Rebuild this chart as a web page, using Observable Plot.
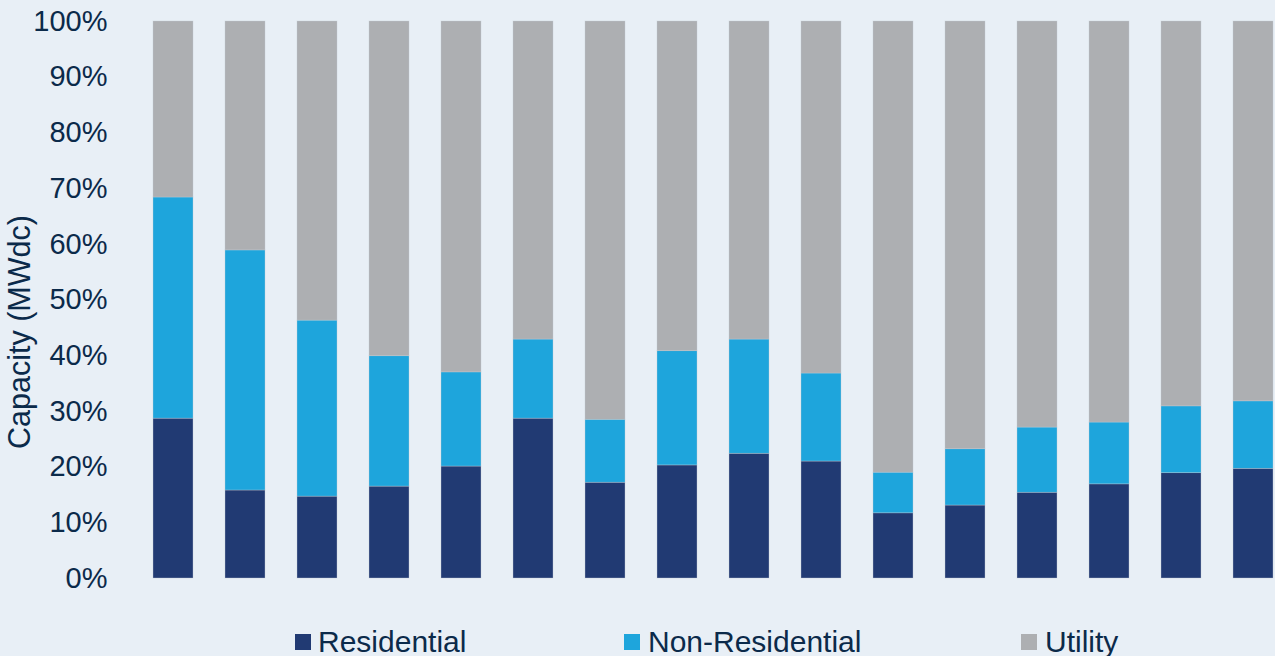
<!DOCTYPE html>
<html>
<head>
<meta charset="utf-8">
<script src="https://cdn.jsdelivr.net/npm/d3@7"></script>
<script src="https://cdn.jsdelivr.net/npm/@observablehq/plot@0.6"></script>
<style>
  html, body { margin: 0; padding: 0; background: #e8eff6; overflow: hidden; }
  #wrap { position: relative; width: 1275px; height: 656px; font-family: "Liberation Sans", Arial, sans-serif; }
  #legend { position: absolute; left: 0; top: 0; width: 1275px; height: 656px; pointer-events: none; }
  .item { position: absolute; top: 622px; font-size: 30px; color: #0b2a4a; line-height: 40px; white-space: nowrap; }
  .sw { position: absolute; top: 12px; width: 16px; height: 16px; }
  .lbl { position: absolute; top: 0; }
</style>
</head>
<body>
<div id="wrap"><div id="chart"></div><div id="legend"></div></div>
<script>
// Bar categories (unlabelled in the source chart)
const categories = ["1","2","3","4","5","6","7","8","9","10","11","12","13","14","15","16"];
// Shares of capacity (%)
const residential    = [28.7, 15.8, 14.7, 16.5, 20.1, 28.7, 17.2, 20.3, 22.4, 21.0, 11.7, 13.1, 15.4, 16.9, 18.9, 19.7];
const nonResidential = [39.7, 43.1, 31.6, 23.4, 16.9, 14.2, 11.3, 20.5, 20.5, 15.8,  7.3, 10.1, 11.7, 11.1, 12.0, 12.1];
const utility        = residential.map((r, i) => +(100 - r - nonResidential[i]).toFixed(1));
const segments = ["Residential", "Non-Residential", "Utility"];
const colors = ["#213a73", "#1ea5dc", "#adafb2"];
const yTicks = [0,10,20,30,40,50,60,70,80,90,100];

const data = [];
categories.forEach((c, i) => {
  data.push({cat: c, seg: segments[0], value: residential[i]});
  data.push({cat: c, seg: segments[1], value: nonResidential[i]});
  data.push({cat: c, seg: segments[2], value: utility[i]});
});

const font = "Liberation Sans, Arial, sans-serif";
const chart = Plot.plot({
  width: 1275,
  height: 600,
  marginTop: 21,
  marginBottom: 22,
  marginLeft: 119,
  marginRight: 0,
  style: {background: "transparent", fontFamily: font, color: "#0b2a4a", overflow: "visible"},
  x: {domain: categories, range: [119.4, 1306.5], padding: 0.442, axis: null},
  y: {domain: [0, 100], ticks: yTicks, tickFormat: d => d + "%", label: null},
  color: {domain: segments, range: colors},
  marks: [
    Plot.axisY({ticks: yTicks, tickFormat: d => d + "%", tickSize: 0, tickPadding: 12, fontSize: 29, label: null, fill: "#0b2a4a"}),
    Plot.barY(data, {x: "cat", y: "value", fill: "seg", order: segments, stroke: "#c5cbd3", strokeWidth: 0.6, strokeOpacity: 0.6}),
    Plot.text(["Capacity (MWdc)"], {frameAnchor: "left", textAnchor: "middle", text: d => d, rotate: -90, dx: -99, dy: 32, fontSize: 30.5, fill: "#0b2a4a"})
  ]
});
document.getElementById("chart").appendChild(chart);

const legendPos = [295, 624, 1021];
const legend = document.getElementById("legend");
segments.forEach((s, i) => {
  const item = document.createElement("div");
  item.className = "item";
  item.style.left = legendPos[i] + "px";
  item.innerHTML = `<span class="sw" style="left:0;background:${colors[i]}"></span><span class="lbl" style="left:${i===0?23:24}px">${s}</span>`;
  legend.appendChild(item);
});
</script>
</body>
</html>
